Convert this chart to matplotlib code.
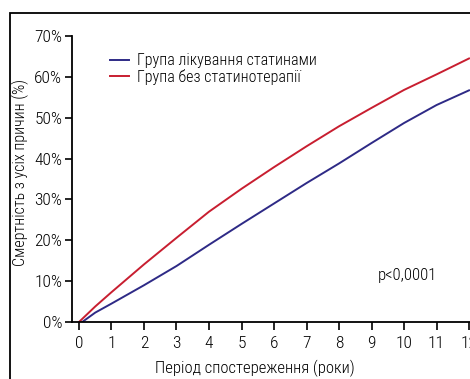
import matplotlib
matplotlib.use('Agg')
import matplotlib.pyplot as plt
from matplotlib.patches import Rectangle

plt.rcParams['font.family'] = ['Roboto Condensed', 'DejaVu Sans']
plt.rcParams['font.weight'] = 'light'

# cumulative all-cause mortality, %
years = [0, 0.5, 1, 2, 3, 4, 5, 6, 7, 8, 9, 10, 11, 12]
statin_years = [0.1, 0.5, 1, 2, 3, 4, 5, 6, 7, 8, 9, 10, 11, 12]
statin = [0.0, 2.3, 4.5, 9.0, 13.7, 18.9, 24.0, 29.0, 34.0, 38.8, 43.8, 48.7, 53.1, 56.7]
no_statin = [0.0, 3.8, 7.3, 14.1, 20.6, 27.0, 32.6, 37.9, 43.0, 47.9, 52.4, 56.8, 60.6, 64.5]

labels = ['Група лікування статинами', 'Група без статинотерапії']
xticks = list(range(13))
yticks = [0, 10, 20, 30, 40, 50, 60, 70]

fig = plt.figure(figsize=(4.7, 3.79), dpi=100)
ax = fig.add_axes([72 / 470, 57 / 379, 398 / 470, 286 / 379])

ax.plot(statin_years, statin, color='#2e2a86', lw=1.4, label=labels[0])
ax.plot(years, no_statin, color='#c81e30', lw=1.4, label=labels[1])

ax.set_xlim(-0.215, 12.03)
ax.set_ylim(0, 70)
ax.set_xticks(xticks)
ax.set_yticks(yticks)
ax.set_yticklabels([f'{v}%' for v in yticks])
ax.tick_params(direction='out', length=6, width=1.2, labelsize=12.5, pad=4)
ax.tick_params(axis='y', length=5, pad=2)

for side in ['top', 'right']:
    ax.spines[side].set_visible(False)
for side in ['left', 'bottom']:
    ax.spines[side].set_linewidth(1.3)

fig.text(255 / 470, 1 - 368 / 379, 'Період спостереження (роки)', fontsize=12,
         ha='center', va='center')
fig.text(20 / 470, 1 - 173 / 379, 'Смертність з усіх причин (%)', fontsize=11.5,
         ha='center', va='center', rotation=90)

leg = ax.legend(loc='upper left', bbox_to_anchor=(0.095, 0.94), frameon=False,
                fontsize=11.5, handlelength=1.2, handletextpad=0.5,
                labelspacing=0.05, borderaxespad=0, borderpad=0)
ax.text(10.1, 11.5, 'p<0,0001', fontsize=12, ha='center', va='center')

# outer frame around the figure
fig.patches.append(Rectangle((10 / 470, -0.1), 1.2, 1.1 - 13 / 379,
                             transform=fig.transFigure, fill=False,
                             edgecolor='black', lw=1.3))

fig.savefig('out.png', dpi=100)
